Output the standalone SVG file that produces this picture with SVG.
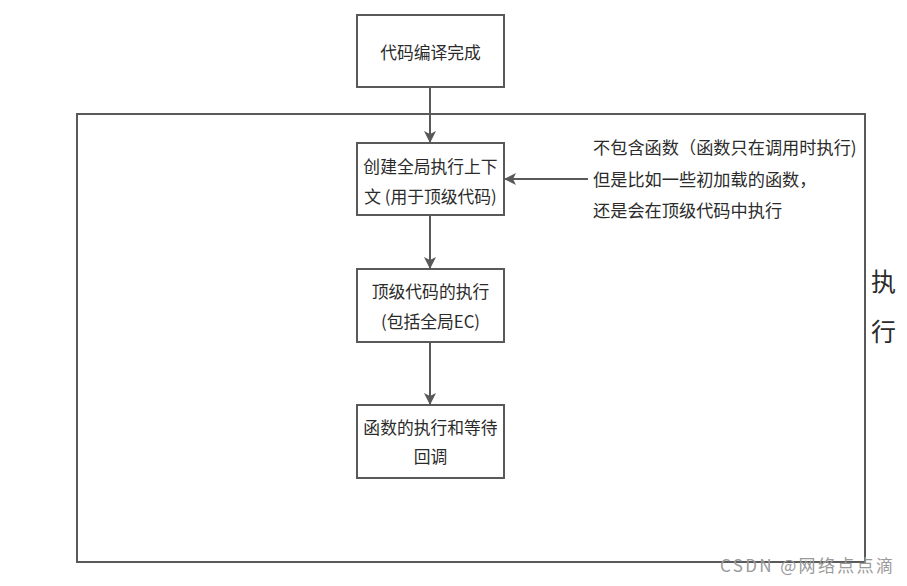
<svg xmlns="http://www.w3.org/2000/svg" width="907" height="586" viewBox="0 0 907 586">
<defs>
<marker id="ah" markerWidth="12" markerHeight="12" refX="11" refY="6" orient="auto" markerUnits="userSpaceOnUse">
<path d="M0,0 L12,6 L0,12 L3,6 Z" fill="#595959"/>
</marker>
<style>
.box{fill:#fff;stroke:#595959;stroke-width:2}
.t{font-family:"Noto Sans CJK SC","Liberation Sans",sans-serif;font-size:16.8px;fill:#2b2b2b;text-anchor:middle}
.n{font-family:"Noto Sans CJK SC","Liberation Sans",sans-serif;font-size:17.2px;fill:#2b2b2b}
.c{stroke:#595959;stroke-width:2;fill:none;marker-end:url(#ah)}
</style>
</defs>
<rect width="907" height="586" fill="#fff"/>
<g id="outer"><rect x="77" y="114" width="788" height="448" fill="none" stroke="#595959" stroke-width="2"/></g>
<g id="n1"><rect class="box" x="357" y="15" width="147" height="72"/><text class="t" x="430.5" y="59">代码编译完成</text></g>
<g id="n2"><rect class="box" x="357" y="143" width="147" height="72"/><text class="t" x="430.5" y="173">创建全局执行上下</text><text class="t" x="430.5" y="203">文 (用于顶级代码)</text></g>
<g id="n3"><rect class="box" x="357" y="269" width="147" height="73"/><text class="t" x="430.5" y="298">顶级代码的执行</text><text class="t" x="430.5" y="328">(包括全局EC)</text></g>
<g id="n4"><rect class="box" x="357" y="405" width="147" height="73"/><text class="t" x="430.5" y="434">函数的执行和等待</text><text class="t" x="430.5" y="463">回调</text></g>
<g id="note"><text class="n" x="593" y="154">不包含函数（函数只在调用时执行)</text><text class="n" x="593" y="186">但是比如一些初加载的函数，</text><text class="n" x="593" y="217">还是会在顶级代码中执行</text></g>
<g id="label"><text class="n" x="871" y="291" style="font-size:25px">执</text><text class="n" x="871" y="341" style="font-size:25px">行</text></g>
<g id="connectors">
<line class="c" x1="430" y1="87" x2="430" y2="142"/>
<line class="c" x1="430" y1="215" x2="430" y2="268"/>
<line class="c" x1="430" y1="342" x2="430" y2="404"/>
<line class="c" x1="588" y1="179" x2="505" y2="179"/>
</g>
<text x="720" y="572" style="font-family:'Noto Sans CJK SC','Liberation Sans',sans-serif;font-size:17px;fill:#9a9a9a" textLength="173">CSDN @网络点点滴</text>
</svg>
